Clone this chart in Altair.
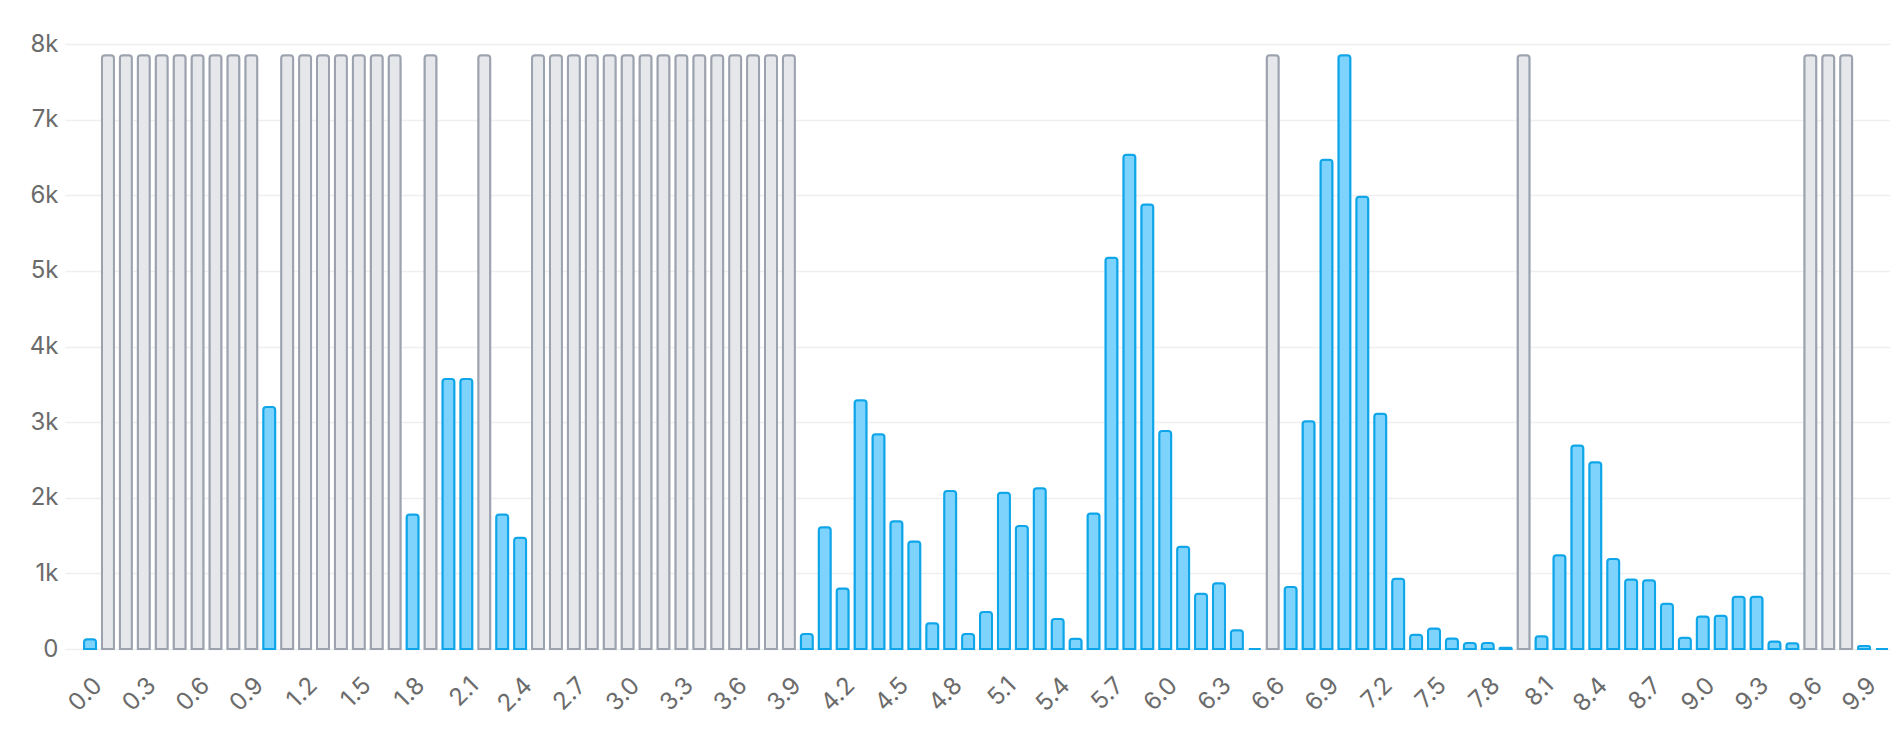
import altair as alt
import pandas as pd

# Bin labels 0.0 ... 10.0
bins = [f"{i / 10:.1f}" for i in range(101)]

# Counts per bin (None = empty bin, drawn as grey full-height placeholder)
counts = [
    130, None, None, None, None, None, None, None, None, None,        # 0.0-0.9
    3200, None, None, None, None, None, None, None, 1780, None,       # 1.0-1.9
    3570, 3570, None, 1780, 1470, None, None, None, None, None,       # 2.0-2.9
    None, None, None, None, None, None, None, None, None, None,       # 3.0-3.9
    200, 1610, 800, 3290, 2840, 1690, 1420, 340, 2090, 200,           # 4.0-4.9
    490, 2065, 1625, 2127, 397, 136, 1792, 5172, 6536, 5879,          # 5.0-5.9
    2884, 1352, 732, 868, 248, 0, None, 819, 3010, 6470,              # 6.0-6.9
    7850, 5980, 3110, 930, 190, 270, 140, 80, 80, 15,                 # 7.0-7.9
    None, 170, 1240, 2690, 2470, 1190, 920, 910, 600, 150,            # 8.0-8.9
    430, 440, 690, 690, 100, 75, None, None, None, 40,                # 9.0-9.9
    0,                                                                # 10.0
]

tick_labels = bins[::3]
y_ticks = [0, 1000, 2000, 3000, 4000, 5000, 6000, 7000, 8000]

df = pd.DataFrame({"bin": bins, "count": counts})

x = alt.X(
    "bin:N",
    sort=bins,
    title=None,
    scale=alt.Scale(paddingInner=0.33, paddingOuter=0.587, align=0.905),
    axis=alt.Axis(
        values=tick_labels,
        labelAngle=-45,
        labelAlign="right",
        labelBaseline="top",
        labelFontSize=24,
        labelColor="#6b6b6b",
        labelFont="Inter",
        labelPadding=24,
        domain=False,
        ticks=False,
        grid=False,
    ),
)

yscale = alt.Scale(domain=[0, 8000])
yaxis = alt.Axis(
    values=y_ticks,
    labelExpr="datum.value == 0 ? '0' : format(datum.value / 1000, 'd') + 'k'",
    labelFontSize=24,
    labelColor="#6b6b6b",
    labelFont="Inter",
    labelPadding=7,
    domain=False,
    ticks=False,
    grid=True,
    gridColor="#efefef",
    gridWidth=1.5,
)

base = alt.Chart(df)

grey = (
    base.transform_joinaggregate(maxc="max(count)")
    .transform_filter("!isValid(datum.count)")
    .mark_bar(
        fill="#e5e7eb",
        stroke="#9ca3af",
        strokeWidth=2,
        cornerRadiusTopLeft=3,
        cornerRadiusTopRight=3,
    )
    .encode(x=x, y=alt.Y("maxc:Q", scale=yscale, axis=yaxis, title=None))
)

blue = (
    base.transform_filter("isValid(datum.count)")
    .mark_bar(
        fill="#7dd3fc",
        stroke="#0ea5e9",
        strokeWidth=2,
        cornerRadiusTopLeft=3,
        cornerRadiusTopRight=3,
    )
    .encode(x=x, y=alt.Y("count:Q", scale=yscale, axis=yaxis, title=None))
)

chart = (
    alt.layer(grey, blue)
    .properties(
        width=1825,
        height=605,
        padding={"left": 21, "top": 24, "right": 0, "bottom": 0},
    )
    .configure_view(stroke=None)
)

chart.save("out.html", embed_options={"renderer": "svg", "actions": False})
